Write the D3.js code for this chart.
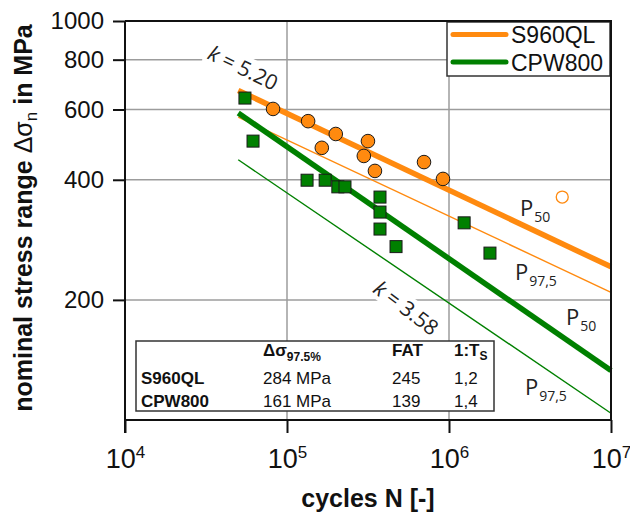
<!DOCTYPE html>
<html><head><meta charset="utf-8">
<script src="https://cdn.jsdelivr.net/npm/d3@7"></script>
<style>html,body{margin:0;padding:0;background:#fff;}svg{display:block;}</style>
</head><body>
<svg id="c" width="630" height="516"></svg>
<script>
// ---- data ----
const yTicks = [200, 400, 600, 800, 1000];
const xTicks = [1e4, 1e5, 1e6, 1e7];
const xTickExp = ["4", "5", "6", "7"];
const s960N = [82000, 135000, 200000, 316000, 164000, 298000, 349000, 701000, 918000];
const s960S = [602, 561, 521, 500, 481, 459, 421, 443, 402];
const s960RunoutN = [5.0e6];
const s960RunoutS = [362];
const cpwN = [55000, 61700, 133000, 172000, 206000, 228000, 375000, 375000, 375000, 471000, 1240000, 1790000];
const cpwS = [641, 500, 399, 399, 384, 384, 362, 332, 301, 272, 312, 262];
const lineN = [5e4, 1e7];
const s960P50 = [670, 242];
const s960P975 = [574, 209];
const cpwP50 = [588, 133];
const cpwP975 = [449, 104];
const seriesNames = ["S960QL", "CPW800"];
const tableRows = [["S960QL", "284 MPa", "245", "1,2"], ["CPW800", "161 MPa", "139", "1,4"]];

const ORANGE = "#ff8a0f", GREEN = "#008000";
const svg = d3.select("#c");
const L = 125, R = 611, T = 21, B = 420;
const x = d3.scaleLog().domain([1e4, 1e7]).range([L, R]);
const y = d3.scaleLog().domain([100, 1000]).range([B, T]);

// grid
const g = svg.append("g");
g.selectAll(".gx").data([1e5, 1e6]).join("line")
  .attr("x1", d => x(d)).attr("x2", d => x(d)).attr("y1", T).attr("y2", B)
  .attr("stroke", "#9c9c9c").attr("stroke-width", 1.5);
g.selectAll(".gy").data([200, 400, 600, 800]).join("line")
  .attr("x1", L).attr("x2", R).attr("y1", d => y(d)).attr("y2", d => y(d))
  .attr("stroke", "#9c9c9c").attr("stroke-width", 1.5);

// lines
const line = d3.line().x(d => x(d[0])).y(d => y(d[1]));
const mk = arr => lineN.map((n, i) => [n, arr[i]]);
svg.append("path").attr("d", line(mk(s960P975))).attr("stroke", ORANGE).attr("stroke-width", 1.4).attr("fill", "none");
svg.append("path").attr("d", line(mk(cpwP975))).attr("stroke", GREEN).attr("stroke-width", 1.4).attr("fill", "none");
svg.append("path").attr("d", line(mk(s960P50))).attr("stroke", ORANGE).attr("stroke-width", 5.5).attr("fill", "none");
svg.append("path").attr("d", line(mk(cpwP50))).attr("stroke", GREEN).attr("stroke-width", 5.5).attr("fill", "none");

// k labels with white box
function kLabel(cx, cy, ang, val) {
  const gg = svg.append("g").attr("transform", `translate(${cx},${cy}) rotate(${ang})`);
  const rect = gg.append("rect").attr("fill", "#fff");
  const t = gg.append("text").attr("text-anchor", "middle").attr("dy", "0.35em")
    .attr("font-family", "Open Sans").attr("font-size", 21).attr("fill", "#222");
  t.append("tspan").attr("font-style", "italic").text("k");
  t.append("tspan").text(" = " + val);
  const bb = t.node().getBBox();
  rect.attr("x", bb.x - 3).attr("y", bb.y + 2).attr("width", bb.width + 6).attr("height", bb.height - 4);
}
kLabel(243, 68, 26, "5.20");
kLabel(406, 308, 37, "3.58");

// markers
svg.selectAll(".cs").data(cpwN.map((n, i) => [n, cpwS[i]])).join("rect")
  .attr("x", d => x(d[0]) - 6).attr("y", d => y(d[1]) - 6).attr("width", 12).attr("height", 12)
  .attr("fill", GREEN).attr("stroke", "#1a1a1a").attr("stroke-width", 1);
svg.selectAll(".sc").data(s960N.map((n, i) => [n, s960S[i]])).join("circle")
  .attr("cx", d => x(d[0])).attr("cy", d => y(d[1])).attr("r", 6.8)
  .attr("fill", ORANGE).attr("stroke", "#1a1a1a").attr("stroke-width", 1);
svg.selectAll(".ro").data(s960RunoutN.map((n, i) => [n, s960RunoutS[i]])).join("circle")
  .attr("cx", d => x(d[0])).attr("cy", d => y(d[1])).attr("r", 6)
  .attr("fill", "#fff").attr("stroke", ORANGE).attr("stroke-width", 1.3);

// P labels
function pLabel(px, py, sub) {
  const t = svg.append("text").attr("x", px).attr("y", py).attr("font-family", "Open Sans").attr("fill", "#222");
  t.append("tspan").attr("font-size", 22).text("P");
  t.append("tspan").attr("font-size", 14).attr("dy", 5.5).attr("dx", 1).text(sub);
}
pLabel(520, 216, "50");
pLabel(515, 280, "97,5");
pLabel(566, 325, "50");
pLabel(525, 395, "97,5");

// table
const tb = svg.append("g").attr("font-family", "Liberation Sans, Arial").attr("font-size", 17).attr("fill", "#111");
tb.append("rect").attr("x", 136).attr("y", 341).attr("width", 358).attr("height", 70)
  .attr("fill", "#fff").attr("stroke", "#333").attr("stroke-width", 1.5);
const colX = [141, 263, 392, 454];
const h1 = tb.append("text").attr("x", colX[1]).attr("y", 356).attr("font-weight", "bold");
h1.append("tspan").text("Δσ");
h1.append("tspan").attr("font-size", 12).attr("dy", 5).text("97.5%");
tb.append("text").attr("x", colX[2]).attr("y", 356).attr("font-weight", "bold").text("FAT");
const h3 = tb.append("text").attr("x", colX[3]).attr("y", 356).attr("font-weight", "bold");
h3.append("tspan").text("1:T");
h3.append("tspan").attr("font-size", 12).attr("dy", 4).text("S");
tableRows.forEach((r, i) => {
  r.forEach((c, j) => {
    tb.append("text").attr("x", colX[j]).attr("y", 384 + i * 22.5)
      .attr("font-weight", j === 0 ? "bold" : "normal").text(c);
  });
});

// legend
const lg = svg.append("g");
lg.append("rect").attr("x", 447).attr("y", 22).attr("width", 163).attr("height", 54)
  .attr("fill", "#fff").attr("stroke", "#333").attr("stroke-width", 1.5);
[ORANGE, GREEN].forEach((c, i) => {
  const yy = 34.5 + i * 27.5;
  lg.append("line").attr("x1", 453).attr("x2", 506).attr("y1", yy).attr("y2", yy)
    .attr("stroke", c).attr("stroke-width", 5).attr("stroke-linecap", "round");
  lg.append("text").attr("x", 511).attr("y", yy + 8.5).attr("font-family", "Liberation Sans, Arial")
    .attr("font-size", 23).attr("fill", "#111").text(seriesNames[i]);
});

// frame
svg.append("path").attr("d", `M${L},${T}H${R}V${B}`).attr("fill", "none").attr("stroke", "#111").attr("stroke-width", 2);

// axes
const ya = svg.append("g").attr("transform", `translate(${L},0)`)
  .call(d3.axisLeft(y).tickValues(yTicks).tickSize(12).tickPadding(9).tickFormat(d3.format("d")));
ya.select(".domain").attr("d", `M0,${T}V${B + 13}`).attr("stroke-width", 2).attr("stroke", "#111");
ya.selectAll(".tick line").attr("stroke-width", 2).attr("stroke", "#111");
ya.selectAll(".tick text").attr("font-family", "Liberation Sans, Arial").attr("font-size", 24).attr("fill", "#111");

const xa = svg.append("g").attr("transform", `translate(0,${B})`)
  .call(d3.axisBottom(x).tickValues(xTicks).tickSize(13).tickFormat(""));
xa.select(".domain").attr("d", `M${L},0H${R}`).attr("stroke-width", 2).attr("stroke", "#111");
xa.selectAll(".tick line").attr("stroke-width", 2).attr("stroke", "#111");
xa.selectAll(".tick").each(function (d, i) {
  const t = d3.select(this).append("text").attr("y", 48).attr("text-anchor", "middle")
    .attr("font-family", "Liberation Sans, Arial").attr("fill", "#111");
  t.append("tspan").attr("font-size", 27).text("10");
  t.append("tspan").attr("font-size", 17).attr("dy", -10).text(xTickExp[i]);
});

// axis titles
svg.append("text").attr("x", (L + R) / 2).attr("y", 507).attr("text-anchor", "middle")
  .attr("font-family", "Liberation Sans, Arial").attr("font-weight", "bold").attr("font-size", 25).attr("fill", "#111")
  .text("cycles N [-]");
const yt = svg.append("text").attr("transform", `translate(32,218) rotate(-90)`).attr("text-anchor", "middle")
  .attr("font-family", "Liberation Sans, Arial").attr("font-weight", "bold").attr("font-size", 25).attr("fill", "#111");
yt.append("tspan").text("nominal stress range ");
yt.append("tspan").attr("font-weight", "normal").text("Δσ");
yt.append("tspan").attr("font-weight", "normal").attr("font-size", 17).attr("dy", 5).text("n");
yt.append("tspan").attr("dy", -5).text(" in MPa");
</script>
</body></html>
